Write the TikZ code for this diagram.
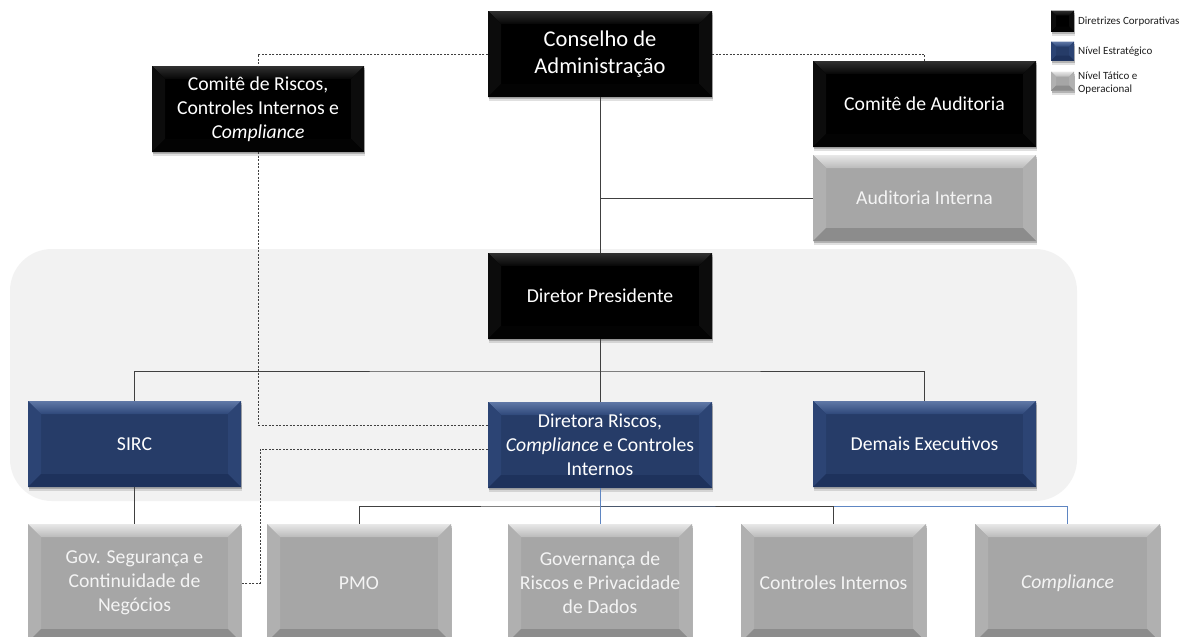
\documentclass[tikz,border=0pt]{standalone}
\usepackage{fontspec}
\setmainfont{Carlito}
\usetikzlibrary{calc}
\definecolor{lnkc}{RGB}{64,64,64}
\definecolor{bluel}{RGB}{95,134,194}
\definecolor{bgpanel}{RGB}{242,242,242}
\definecolor{kbase}{RGB}{0,0,0}
\definecolor{ktop}{RGB}{48,48,48}
\definecolor{ktopb}{RGB}{6,6,6}
\definecolor{kside}{RGB}{12,12,12}
\definecolor{kbot}{RGB}{3,3,3}
\definecolor{nbase}{RGB}{38,60,104}
\definecolor{ntop}{RGB}{96,120,166}
\definecolor{ntopb}{RGB}{46,72,122}
\definecolor{nside}{RGB}{44,68,116}
\definecolor{nbot}{RGB}{30,50,92}
\definecolor{gbase}{RGB}{166,166,166}
\definecolor{gtop}{RGB}{232,232,232}
\definecolor{gtopb}{RGB}{186,186,186}
\definecolor{gside}{RGB}{176,176,176}
\definecolor{gbot}{RGB}{140,140,140}
\definecolor{gtext}{RGB}{244,244,244}
\definecolor{legtext}{RGB}{30,30,30}
\newcommand\bevsz{13pt}
\newcommand\bevpic[5]{%
  \fill[#5] (path picture bounding box.south west) rectangle (path picture bounding box.north east);
  \shade[top color=#1,bottom color=#2] (path picture bounding box.north west) -- (path picture bounding box.north east) -- ([xshift=-\bevsz,yshift=-\bevsz]path picture bounding box.north east) -- ([xshift=\bevsz,yshift=-\bevsz]path picture bounding box.north west) -- cycle;
  \fill[#3] (path picture bounding box.north west) -- ([xshift=\bevsz,yshift=-\bevsz]path picture bounding box.north west) -- ([xshift=\bevsz,yshift=\bevsz]path picture bounding box.south west) -- (path picture bounding box.south west) -- cycle;
  \fill[#3] (path picture bounding box.north east) -- ([xshift=-\bevsz,yshift=-\bevsz]path picture bounding box.north east) -- ([xshift=-\bevsz,yshift=\bevsz]path picture bounding box.south east) -- (path picture bounding box.south east) -- cycle;
  \fill[#4] (path picture bounding box.south west) -- ([xshift=\bevsz,yshift=\bevsz]path picture bounding box.south west) -- ([xshift=-\bevsz,yshift=\bevsz]path picture bounding box.south east) -- (path picture bounding box.south east) -- cycle;
}
\tikzset{
  bev/.code={\def\bevsz{#1}},
  lnk/.style={draw=lnkc, line width=0.9pt},
  dsh/.style={draw=lnkc, line width=0.8pt, dash pattern=on 2pt off 1.5pt},
  blnk/.style={draw=bluel, line width=0.9pt},
  shad/.style={preaction={fill=black, opacity=0.12, transform canvas={shift={(1pt,-4pt)}}},
               preaction={fill=black, opacity=0.2, transform canvas={shift={(0.5pt,-2pt)}}}},
  box/.style={minimum height=86pt, inner sep=0pt, align=center, shad,
              font=\fontsize{19.7}{24}\selectfont},
  kbox/.style={box, fill=kbase, text=white, path picture={\bevpic{ktop}{ktopb}{kside}{kbot}{kbase}}},
  nbox/.style={box, fill=nbase, text=white, path picture={\bevpic{ntop}{ntopb}{nside}{nbot}{nbase}}},
  gbox/.style={box, fill=gbase, text=gtext, path picture={\bevpic{gtop}{gtopb}{gside}{gbot}{gbase}}},
  legt/.style={anchor=west, inner sep=0pt, text=legtext, align=left, font=\fontsize{11}{12.5}\selectfont},
}
\begin{document}
\begin{tikzpicture}[x=1pt,y=-1pt]
\clip (0,0) rectangle (1184,637);
\fill[white] (0,0) rectangle (1184,637);
% panel
\fill[bgpanel, rounded corners=42pt] (10,249) rectangle (1077,501);

% top level
\node[kbox, minimum width=224pt, font=\fontsize{22.5}{26.5}\selectfont] (cons) at (600,54) {Conselho de\\Administração};
\node[kbox, minimum width=212pt] (crc) at (258,109) {Comitê de Riscos,\\Controles Internos e\\\textit{Compliance}};
\node[kbox, minimum width=223pt] (caud) at (924.5,104) {Comitê de Auditoria};
\node[gbox, minimum width=223pt] (aint) at (924.5,198) {Auditoria Interna};
\node[kbox, minimum width=224pt] (dp) at (600,296) {Diretor Presidente};
\node[nbox, minimum width=213pt] (sirc) at (134.5,444) {SIRC};
\node[nbox, minimum width=224pt] (dir) at (600,445) {Diretora Riscos,\\\textit{Compliance} e Controles\\Internos};
\node[nbox, minimum width=223pt] (dem) at (924.5,444) {Demais Executivos};
% bottom row
\node[gbox, minimum width=213pt, minimum height=118pt] (gov) at (134.5,583) {Gov. Segurança e\\Continuidade de\\Negócios};
\node[gbox, minimum width=184pt, minimum height=118pt] (pmo) at (359,583) {PMO};
\node[gbox, minimum width=184pt, minimum height=118pt] (grp) at (600,583) {Governança de\\Riscos e Privacidade\\de Dados};
\node[gbox, minimum width=185pt, minimum height=118pt] (ci) at (833.5,583) {Controles Internos};
\node[gbox, minimum width=185pt, minimum height=118pt] (comp) at (1067.5,583) {\textit{Compliance}};

% legend
\node[kbox, bev=5pt, minimum width=23pt, minimum height=21pt] (lg1) at (1062.5,21) {};
\node[nbox, bev=5pt, minimum width=23pt, minimum height=19pt] (lg2) at (1062.5,51) {};
\node[gbox, bev=5pt, minimum width=23pt, minimum height=19pt] (lg3) at (1062.5,81) {};
\node[legt] (lt1) at (1078,22) {Diretrizes Corporativas};
\node[legt] (lt2) at (1078,52) {Nível Estratégico};
\node[legt] (lt3) at (1078,83) {Nível Tático e\\Operacional};

% connectors
\coordinate (ha) at (600,198);
\coordinate (hb) at (600,371);
\coordinate (hc) at (600,506);
\coordinate (dv) at (260,583);
\draw[lnk] (cons.south) -- (dp.north);
\draw[lnk] (ha) -- (aint.west);
\draw[dsh] (cons.west) -| (crc.north);
\draw[dsh] (cons.east) -| (caud.north);
\draw[dsh] (crc.south) |- ([yshift=20pt]dir.west);
\draw[dsh] ([yshift=-4pt]dir.west) -| (dv) -- (gov.east);
\draw[lnk] (dp.south) -- (hb);
\draw[lnk] (sirc.north) |- (hb) -| (dem.north);
\draw[lnk] (hb) -- (dir.north);
\draw[lnk] (sirc.south) -- (gov.north);
\draw[blnk] (hc) -| (comp.north);
\draw[lnk] (pmo.north) |- (hc) -| (ci.north);
\draw[blnk] (dir.south) -- (grp.north);
\end{tikzpicture}
\end{document}
